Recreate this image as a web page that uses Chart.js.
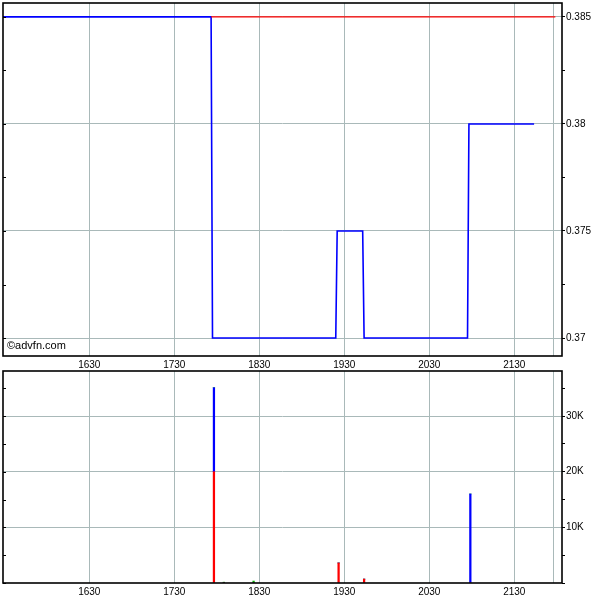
<!DOCTYPE html>
<html>
<head>
<meta charset="utf-8">
<script src="https://cdn.jsdelivr.net/npm/chart.js@4/dist/chart.umd.min.js"></script>
<style>
  html, body { margin: 0; padding: 0; background: #ffffff; }
  #wrap { position: relative; width: 600px; height: 600px; }
  #c1 { position: absolute; left: 0; top: 0; }
  #c2 { position: absolute; left: 0; top: 360px; }
</style>
</head>
<body>
<div id="wrap">
  <canvas id="c1" width="600" height="372"></canvas>
  <canvas id="c2" width="600" height="240"></canvas>
</div>
<script>
// ---- data (time in minutes since midnight) ----
const priceTimes  = [929, 1076, 1077, 1164, 1165, 1183, 1184, 1257, 1258, 1304];
const priceValues = [0.385, 0.385, 0.37, 0.37, 0.375, 0.375, 0.37, 0.37, 0.38, 0.38];
const refTimes    = [1076, 1319];
const refValues   = [0.385, 0.385];

const volTimes  = [1078, 1085, 1106, 1166, 1184, 1259];
const sellVol   = [20000, 0, 0, 3600, 700, 0];
const buyVol    = [15100, 0, 0, 0, 0, 16000];
const otherVol  = [0, 150, 350, 0, 0, 0];

const timeTicks  = [990, 1050, 1110, 1170, 1230, 1290, 1318];
const timeLabels = ['1630', '1730', '1830', '1930', '2030', '2130', ''];

const priceTicks  = [0.37, 0.3725, 0.375, 0.3775, 0.38, 0.3825, 0.385];
const priceLabels = ['0.37', '', '0.375', '', '0.38', '', '0.385'];

const volTicks  = [0, 5000, 10000, 15000, 20000, 25000, 30000, 35000];
const volLabels = ['', '', '10K', '', '20K', '', '30K', ''];

const X_MIN = 929.1, X_MAX = 1323.7;
const GRID = '#a9b9b9';
const FONT = { family: 'Liberation Sans, Arial, sans-serif', size: 10 };

const framePlugin = {
  id: 'frame',
  afterDraw(chart, args, opts) {
    const { ctx, chartArea: a } = chart;
    ctx.save();
    const ys = chart.scales.y;
    ctx.strokeStyle = '#000';
    ctx.lineWidth = 1;
    ys.ticks.forEach(t => {
      const py = Math.round(ys.getPixelForValue(t.value)) + 0.5;
      ctx.beginPath();
      ctx.moveTo(a.left, py);
      ctx.lineTo(a.left + 3, py);
      ctx.stroke();
    });
    ctx.lineWidth = 1.6;
    ctx.strokeRect(a.left, a.top, a.right - a.left, a.bottom - a.top);
    if (opts && opts.text) {
      ctx.fillStyle = '#000';
      ctx.font = '11px "Liberation Sans", Arial, sans-serif';
      ctx.textBaseline = 'alphabetic';
      ctx.fillText(opts.text, a.left + 4, a.bottom - 7);
    }
    ctx.restore();
  }
};

function xScale(h) {
  return {
    type: 'linear', min: X_MIN, max: X_MAX, position: 'bottom', offset: false,
    afterBuildTicks: s => { s.ticks = timeTicks.map(v => ({ value: v })); },
    afterFit: s => { s.height = h; s.paddingLeft = 0; s.paddingRight = 0; },
    ticks: {
      autoSkip: false, maxRotation: 0, minRotation: 0, padding: 3,
      color: '#000', font: FONT,
      callback: (v) => { const i = timeTicks.indexOf(v); return i >= 0 ? timeLabels[i] : ''; }
    },
    grid: { color: GRID, lineWidth: 1, drawTicks: false, offset: false },
    border: { display: false }
  };
}

function yScale(ticks, labels, min, max) {
  return {
    type: 'linear', position: 'right', min: min, max: max,
    afterBuildTicks: s => { s.ticks = ticks.map(v => ({ value: v })); },
    afterFit: s => { s.width = 38; s.paddingTop = 0; s.paddingBottom = 0; },
    ticks: {
      color: '#000', font: FONT, padding: 1, autoSkip: false,
      callback: (v) => { const i = ticks.indexOf(v); return i >= 0 ? labels[i] : ''; }
    },
    grid: {
      color: ctx => (ctx.tick && labels[ticks.indexOf(ctx.tick.value)]) ? GRID : 'rgba(0,0,0,0)',
      tickColor: '#000', tickLength: 3, drawTicks: true, lineWidth: 1
    },
    border: { display: false }
  };
}

function leftScale() {
  return {
    type: 'linear', position: 'left', display: true,
    afterFit: s => { s.width = 3; s.paddingTop = 0; s.paddingBottom = 0; },
    ticks: { display: false },
    grid: { display: false },
    border: { display: false }
  };
}

new Chart(document.getElementById('c1'), {
  type: 'line',
  data: {
    datasets: [
      {
        data: refTimes.map((t, i) => ({ x: t, y: refValues[i] })),
        borderColor: '#ff0000', borderWidth: 1.3, pointRadius: 0, tension: 0
      },
      {
        data: priceTimes.map((t, i) => ({ x: t, y: priceValues[i] })),
        borderColor: '#0000ff', borderWidth: 1.6, pointRadius: 0, tension: 0
      }
    ]
  },
  options: {
    responsive: false, animation: false, events: [],
    layout: { padding: { top: 3, left: 0, right: 0, bottom: 0 } },
    plugins: { legend: { display: false }, tooltip: { enabled: false }, frame: { text: '\u00A9advfn.com' } },
    scales: {
      x: xScale(16),
      y: yScale(priceTicks, priceLabels, 0.36916, 0.38565),
      yl: leftScale()
    }
  },
  plugins: [framePlugin]
});

new Chart(document.getElementById('c2'), {
  type: 'bar',
  data: {
    datasets: [
      { data: volTimes.map((t, i) => ({ x: t, y: sellVol[i] })), backgroundColor: '#ff0000', barThickness: 1.6, borderWidth: 0 },
      { data: volTimes.map((t, i) => ({ x: t, y: buyVol[i] })), backgroundColor: '#0000ff', barThickness: 1.6, borderWidth: 0 },
      { data: volTimes.map((t, i) => ({ x: t, y: otherVol[i] })), backgroundColor: '#00b000', barThickness: 1.6, borderWidth: 0 }
    ]
  },
  options: {
    responsive: false, animation: false, events: [],
    layout: { padding: { top: 11, left: 0, right: 0, bottom: 0 } },
    plugins: { legend: { display: false }, tooltip: { enabled: false }, frame: {} },
    scales: {
      x: Object.assign(xScale(17), { stacked: true }),
      y: Object.assign(yScale(volTicks, volLabels, 0, 38100), { stacked: true }),
      yl: leftScale()
    }
  },
  plugins: [framePlugin]
});
</script>
</body>
</html>
